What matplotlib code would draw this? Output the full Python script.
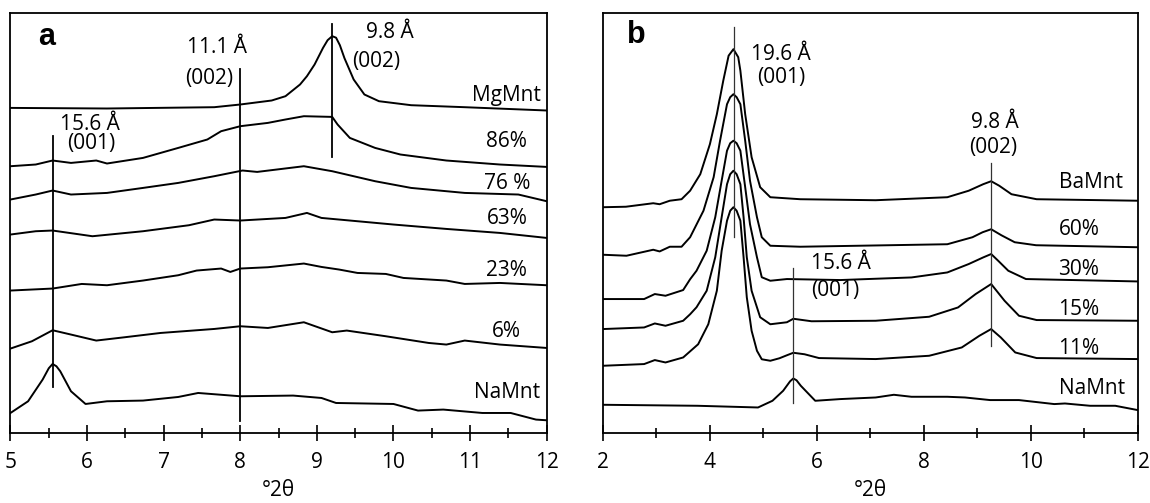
import matplotlib
matplotlib.use("Agg")
import matplotlib.pyplot as plt
from matplotlib.ticker import MultipleLocator

plt.rcParams['font.family'] = ['Open Sans', 'DejaVu Sans']

# ---- panel a: Mg exchange series (°2θ, offset height) ----
a_mg_x = [5.0, 6.26, 7.66, 8.0, 8.41, 8.59, 8.78, 8.87, 8.97, 9.08, 9.14, 9.2, 9.25, 9.3, 9.36, 9.48, 9.62, 9.81, 10.23, 10.93, 12.0]
a_mg_y = [325.3, 324.7, 326, 328.7, 332.7, 337, 348.7, 357, 368.7, 385.3, 393, 397, 395.5, 388, 375, 353.7, 338.7, 332, 328, 326, 322.7]

a_86_x = [5.0, 5.33, 5.55, 5.79, 6.12, 6.26, 6.73, 7.19, 7.57, 7.75, 8.0, 8.36, 8.59, 8.83, 9.2, 9.27, 9.43, 9.76, 10.09, 10.69, 11.39, 12.0]
a_86_y = [267, 268.7, 272.7, 270.3, 272.7, 269.7, 275.3, 285.3, 293.7, 302, 307, 310.3, 313.7, 317, 316.3, 308.7, 295.3, 285.3, 278.7, 272.7, 268.7, 266.3]

a_76_x = [5.0, 5.33, 5.55, 5.79, 6.26, 6.73, 7.19, 7.66, 8.03, 8.22, 8.83, 9.2, 9.76, 10.23, 10.93, 11.63, 12.0]
a_76_y = [233.7, 238.7, 242.7, 238.7, 240.3, 245.3, 250.3, 257, 262.7, 261.3, 267, 262, 252, 245.3, 240.3, 238.7, 232]

a_63_x = [5.0, 5.33, 5.55, 6.07, 6.73, 7.33, 7.66, 8.0, 8.59, 8.87, 9.06, 9.53, 10.0, 10.69, 11.39, 12.0]
a_63_y = [198.7, 202, 202.7, 197, 202, 208, 213.7, 212.7, 215.3, 220.3, 215.3, 212, 208.7, 204.3, 200.3, 195.3]

a_23_x = [5.0, 5.55, 5.93, 6.26, 6.73, 7.19, 7.43, 7.75, 7.87, 8.0, 8.36, 8.83, 9.06, 9.29, 9.53, 9.9, 10.13, 10.69, 10.93, 11.39, 12.0]
a_23_y = [142.7, 144.7, 149.3, 148, 152.7, 158, 162.7, 164.7, 161.3, 164.7, 166, 169.7, 166.3, 163.7, 160.3, 159.3, 155.3, 152.7, 149.3, 150.3, 148]

a_6_x = [5.0, 5.28, 5.55, 5.79, 6.12, 6.49, 6.96, 7.66, 8.0, 8.36, 8.83, 9.2, 9.39, 9.9, 10.46, 10.69, 10.93, 11.39, 12.0]
a_6_y = [84.7, 92, 103, 98.7, 92.7, 96, 100.3, 104.3, 107, 105.3, 111, 101, 102.7, 97, 90.3, 88.7, 92.7, 88.7, 85.3]

a_na_x = [5.0, 5.23, 5.42, 5.5, 5.55, 5.6, 5.65, 5.79, 5.98, 6.26, 6.73, 7.19, 7.45, 8.0, 8.69, 9.06, 9.25, 10.0, 10.32, 10.65, 11.16, 11.53, 11.86, 12.0]
a_na_y = [20.3, 32, 53.7, 65, 69.3, 67, 62, 42, 29.3, 32, 32.7, 36.3, 40.3, 37, 37.7, 35.3, 30.3, 29.3, 22.7, 23.7, 20.3, 20.3, 13.7, 13]

a_names = ["MgMnt", "86%", "76 %", "63%", "23%", "6%", "NaMnt"]
a_label_y = [338, 292, 250, 214.5, 163, 102, 41]

# marker lines panel a: x, bottom, top
a_lines_x = [5.55, 8.0, 9.2]
a_lines_lo = [46, 12.7, 276]
a_lines_hi = [297, 363.7, 409]

# ---- panel b: Ba exchange series ----
b_ba_x = [2.0, 2.43, 2.94, 3.06, 3.25, 3.47, 3.63, 3.82, 4.0, 4.13, 4.25, 4.35, 4.44, 4.53, 4.57, 4.66, 4.78, 4.94, 5.13, 5.69, 7.1, 8.44, 8.84, 9.11, 9.26, 9.41, 9.64, 10.11, 12.0]
b_ba_y = [226, 226.5, 230, 229, 232.5, 234, 242.5, 259, 289, 319, 352.5, 377.5, 384, 376, 362.5, 319, 276, 246, 236, 234, 233, 236, 242.5, 249, 252, 247.5, 239, 234, 232.5]

b_60_x = [2.0, 2.44, 2.94, 3.06, 3.25, 3.47, 3.63, 3.88, 4.07, 4.19, 4.32, 4.38, 4.44, 4.5, 4.57, 4.66, 4.75, 4.88, 4.97, 5.13, 5.69, 8.44, 8.91, 9.1, 9.26, 9.45, 9.7, 10.1, 12.0]
b_60_y = [178.5, 177.5, 183.5, 181.8, 186.5, 186.5, 196, 222.5, 256, 292.5, 329, 336, 339, 336, 329, 292.5, 252.5, 216, 196, 187.5, 186.5, 189, 196, 201, 204, 198, 191, 188, 186]

b_30_x = [2.0, 2.77, 2.97, 3.17, 3.5, 3.63, 3.75, 3.94, 4.1, 4.22, 4.32, 4.38, 4.44, 4.5, 4.57, 4.66, 4.75, 4.88, 4.97, 5.13, 5.44, 6.44, 7.77, 8.44, 8.84, 9.11, 9.26, 9.4, 9.58, 9.91, 12.0]
b_30_y = [134.2, 134.2, 139.2, 137.5, 143.2, 154, 162.5, 182.5, 216, 252.5, 282.5, 290, 292.5, 290, 282.5, 246, 209, 176, 156, 152.5, 154.2, 153.2, 155.8, 160.8, 169.2, 175.8, 179.2, 172, 162.5, 154.2, 151.8]

b_15_x = [2.0, 2.77, 2.97, 3.17, 3.5, 3.63, 3.75, 3.94, 4.1, 4.22, 4.32, 4.38, 4.44, 4.5, 4.57, 4.63, 4.69, 4.78, 4.94, 5.13, 5.44, 5.56, 5.9, 7.1, 8.1, 8.64, 8.97, 9.26, 9.51, 9.78, 10.11, 12.0]
b_15_y = [104.2, 105.8, 109.8, 107.5, 112.5, 119, 126, 142.5, 176, 216, 249, 259, 262.5, 259, 249, 216, 176, 142.5, 116, 109, 111, 114.5, 112, 112.5, 116.5, 125.8, 139.2, 149.2, 132.5, 117.5, 113.2, 112.5]

b_11_x = [2.0, 2.77, 2.97, 3.17, 3.5, 3.78, 3.97, 4.13, 4.22, 4.32, 4.38, 4.44, 4.5, 4.57, 4.63, 4.69, 4.78, 4.88, 4.97, 5.13, 5.3, 5.44, 5.56, 5.77, 6.04, 7.1, 8.1, 8.71, 9.04, 9.26, 9.44, 9.71, 10.11, 12.0]
b_11_y = [67.5, 69.2, 73.2, 70.8, 75.8, 89, 109, 142.5, 182.5, 212.5, 222.5, 226, 222.5, 212.5, 176, 136, 102.5, 82.5, 74, 72.5, 75, 78, 80.5, 79, 75.2, 74.2, 77.5, 85.8, 97.5, 104.2, 95.8, 80.8, 75.2, 74.2]

b_na_x = [2.0, 3.77, 4.9, 5.17, 5.37, 5.5, 5.56, 5.62, 5.7, 5.97, 6.44, 7.1, 7.44, 7.77, 8.44, 8.77, 9.24, 9.78, 10.44, 10.64, 11.11, 11.58, 12.0]
b_na_y = [28.5, 27.5, 25.8, 32.5, 42.5, 52, 54.8, 53, 47.5, 32.5, 34.2, 35.8, 38.5, 36.5, 36.5, 35.8, 33.2, 33.2, 29.2, 29.8, 27.5, 27.5, 23.2]

b_names = ["BaMnt", "60%", "30%", "15%", "11%", "NaMnt"]
b_label_y = [251, 203.5, 163.5, 123.5, 84.5, 44.5]

b_lines_x = [4.45, 9.26, 5.56]
b_lines_lo = [196, 87.5, 30]
b_lines_hi = [406.5, 270, 165]

FS = 15
fig = plt.figure(figsize=(11.5, 5.03), dpi=100)
ax_a = fig.add_axes([0.0091, 0.1386, 0.4663, 0.8364])
ax_b = fig.add_axes([0.5243, 0.1386, 0.4650, 0.8364])

for x, y in [(a_mg_x, a_mg_y), (a_86_x, a_86_y), (a_76_x, a_76_y), (a_63_x, a_63_y),
             (a_23_x, a_23_y), (a_6_x, a_6_y), (a_na_x, a_na_y)]:
    ax_a.plot(x, y, color='black', lw=1.4)
for x, lo, hi in zip(a_lines_x, a_lines_lo, a_lines_hi):
    ax_a.plot([x, x], [lo, hi], color='black', lw=1.3)
for name, yy in zip(a_names, a_label_y):
    ax_a.text(11.48, yy, name, ha='center', va='center', fontsize=FS)
ax_a.text(5.36, 396, 'a', fontsize=22, fontweight='bold', family='Liberation Sans', va='center')
ax_a.text(7.69, 386, '11.1 Å', ha='center', va='center', fontsize=FS)
ax_a.text(7.59, 355, '(002)', ha='center', va='center', fontsize=FS)
ax_a.text(9.95, 401, '9.8 Å', ha='center', va='center', fontsize=FS)
ax_a.text(9.78, 372, '(002)', ha='center', va='center', fontsize=FS)
ax_a.text(6.04, 309, '15.6 Å', ha='center', va='center', fontsize=FS)
ax_a.text(6.05, 290, '(001)', ha='center', va='center', fontsize=FS)

for x, y in [(b_ba_x, b_ba_y), (b_60_x, b_60_y), (b_30_x, b_30_y), (b_15_x, b_15_y),
             (b_11_x, b_11_y), (b_na_x, b_na_y)]:
    ax_b.plot(x, y, color='black', lw=1.4)
for x, lo, hi in zip(b_lines_x, b_lines_lo, b_lines_hi):
    ax_b.plot([x, x], [lo, hi], color='#333333', lw=0.9)
for name, yy in zip(b_names, b_label_y):
    ax_b.text(10.52, yy, name, ha='left', va='center', fontsize=FS)
ax_b.text(2.45, 398, 'b', fontsize=22, fontweight='bold', family='Liberation Sans', va='center')
ax_b.text(5.33, 378.5, '19.6 Å', ha='center', va='center', fontsize=FS)
ax_b.text(5.33, 355.5, '(001)', ha='center', va='center', fontsize=FS)
ax_b.text(9.32, 311, '9.8 Å', ha='center', va='center', fontsize=FS)
ax_b.text(9.29, 286, '(002)', ha='center', va='center', fontsize=FS)
ax_b.text(5.9, 170, '15.6 Å', ha='left', va='center', fontsize=FS)
ax_b.text(5.9, 142.5, '(001)', ha='left', va='center', fontsize=FS)

ax_a.set_xlim(5, 12)
ax_b.set_xlim(2, 12)
ax_a.xaxis.set_major_locator(MultipleLocator(1))
ax_a.xaxis.set_minor_locator(MultipleLocator(0.5))
ax_b.xaxis.set_major_locator(MultipleLocator(2))
ax_b.xaxis.set_minor_locator(MultipleLocator(1))

for ax in (ax_a, ax_b):
    ax.set_ylim(0, 420.6)
    ax.set_yticks([])
    for s in ax.spines.values():
        s.set_linewidth(1.3)
    ax.tick_params(axis='x', which='major', direction='inout', length=11, width=1.2,
                   pad=8, labelsize=FS)
    ax.tick_params(axis='x', which='minor', direction='inout', length=7.5, width=1.2)
    ax.set_xlabel('°2θ', fontsize=FS, labelpad=5)

fig.savefig('out.png', dpi=100)
